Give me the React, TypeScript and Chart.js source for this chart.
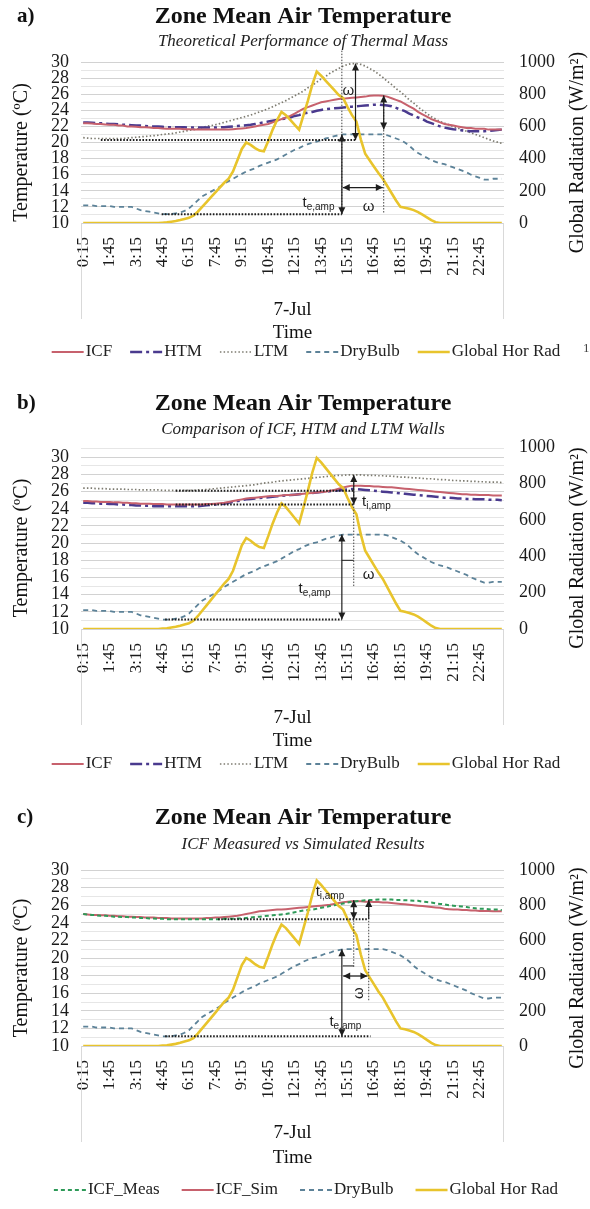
import React, { useEffect, useRef } from "react";
import { Chart, registerables } from "chart.js";

Chart.register(...registerables);

const SERIF = '"Liberation Serif", "Times New Roman", serif';
const SANS = '"Liberation Sans", Arial, sans-serif';

// ---------------- categories & ticks ----------------
const TIME_LABELS = [
  "0:15","0:30","0:45","1:00","1:15","1:30","1:45","2:00","2:15","2:30","2:45","3:00",
  "3:15","3:30","3:45","4:00","4:15","4:30","4:45","5:00","5:15","5:30","5:45","6:00",
  "6:15","6:30","6:45","7:00","7:15","7:30","7:45","8:00","8:15","8:30","8:45","9:00",
  "9:15","9:30","9:45","10:00","10:15","10:30","10:45","11:00","11:15","11:30","11:45","12:00",
  "12:15","12:30","12:45","13:00","13:15","13:30","13:45","14:00","14:15","14:30","14:45","15:00",
  "15:15","15:30","15:45","16:00","16:15","16:30","16:45","17:00","17:15","17:30","17:45","18:00",
  "18:15","18:30","18:45","19:00","19:15","19:30","19:45","20:00","20:15","20:30","20:45","21:00",
  "21:15","21:30","21:45","22:00","22:15","22:30","22:45","23:00","23:15","23:30","23:45","24:00",
];
const LABEL_EVERY = 6;
const DAY_LABEL = "7-Jul";
const X_TITLE = "Time";
const TEMP_TICK_LABELS = [10, 12, 14, 16, 18, 20, 22, 24, 26, 28, 30];
const TEMP_GRID_VALUES = [10, 11, 12, 13, 14, 15, 16, 17, 18, 19, 20, 21, 22, 23, 24, 25, 26, 27, 28, 29, 30, 31];
const RAD_TICK_LABELS = [0, 200, 400, 600, 800, 1000];

// ---------------- series ----------------
const GLOBAL_HOR_RAD = [
  0,0,0,0,0,0,0,0,0,0,0,0,0,0,0,0,0,0,
  2,4,8,12,18,25,32,45,70,100,130,160,190,220,250,275,320,390,460,500,
  485,465,450,445,510,580,640,690,670,640,610,580,670,760,860,940,915,885,
  855,825,795,775,720,670,630,520,430,390,350,310,275,230,185,140,100,95,
  88,80,68,52,35,18,5,
  0,0,0,0,0,0,0,0,0,0,0,0,0,0,0,
];
const DRY_BULB = [
  12.2,12.2,12.2,12.1,12.1,12.1,12.1,12.0,12.0,12.0,12.0,
  12.0,11.8,11.6,11.5,11.4,11.3,11.2,11.1,11.1,11.1,
  11.2,11.3,11.5,11.8,12.3,12.8,13.3,13.6,13.9,14.2,
  14.5,14.9,15.2,15.5,15.8,16.1,16.4,16.6,16.8,17.1,
  17.3,17.5,17.7,17.9,18.2,18.5,18.8,19.1,19.3,19.6,
  19.8,20.0,20.1,20.3,20.5,20.6,20.8,20.9,21.0,21.0,
  21.0,21.0,21.0,21.0,21.0,21.0,21.0,21.0,20.9,20.7,
  20.5,20.3,20.0,19.6,19.1,18.7,18.4,18.1,17.8,17.6,
  17.4,17.3,17.1,16.9,16.7,16.5,16.3,16.0,15.8,15.6,
  15.4,15.4,15.5,15.5,15.5,
];
const ICF_THEORETICAL = [
  22.4,22.4,22.35,22.3,22.3,22.25,22.2,22.2,22.1,22.1,
  22.0,22.0,21.95,21.9,21.9,21.85,21.8,21.8,21.75,21.7,
  21.7,21.7,21.7,21.65,21.65,21.6,21.6,21.6,21.6,21.6,
  21.6,21.6,21.6,21.6,21.65,21.7,21.75,21.8,21.9,22.0,
  22.1,22.2,22.3,22.5,22.7,22.9,23.1,23.3,23.6,23.9,
  24.2,24.4,24.6,24.8,25.0,25.1,25.2,25.3,25.4,25.45,
  25.5,25.55,25.6,25.65,25.7,25.8,25.85,25.85,25.8,25.7,
  25.5,25.3,25.1,24.8,24.5,24.2,23.8,23.5,23.2,22.9,
  22.7,22.5,22.3,22.2,22.1,22.0,21.9,21.8,21.8,21.7,
  21.7,21.7,21.6,21.6,21.6,21.6,
];
const HTM_THEORETICAL = [
  22.5,22.5,22.45,22.4,22.4,22.35,22.3,22.3,22.25,22.2,
  22.2,22.15,22.1,22.1,22.05,22.0,22.0,22.0,21.95,21.9,
  21.9,21.9,21.9,21.9,21.85,21.85,21.85,21.85,21.85,21.85,
  21.85,21.9,21.9,21.95,22.0,22.05,22.1,22.15,22.2,22.3,
  22.4,22.5,22.6,22.7,22.8,22.9,23.0,23.1,23.3,23.4,
  23.6,23.7,23.8,23.95,24.05,24.15,24.2,24.25,24.3,24.35,
  24.4,24.45,24.5,24.55,24.6,24.65,24.7,24.7,24.65,24.6,
  24.5,24.3,24.1,23.9,23.6,23.35,23.1,22.9,22.6,22.4,
  22.2,22.0,21.85,21.75,21.65,21.6,21.5,21.45,21.4,21.4,
  21.4,21.4,21.45,21.5,21.55,21.6,
];
const LTM_THEORETICAL = [
  20.6,20.55,20.5,20.5,20.5,20.5,20.5,20.5,20.5,20.5,
  20.55,20.6,20.65,20.7,20.75,20.8,20.85,20.9,21.0,21.05,
  21.1,21.2,21.3,21.4,21.5,21.6,21.7,21.85,22.0,22.1,
  22.2,22.35,22.5,22.65,22.8,22.95,23.1,23.25,23.4,23.6,
  23.8,24.0,24.2,24.45,24.7,24.95,25.2,25.5,25.8,26.1,
  26.4,26.8,27.1,27.5,27.9,28.2,28.6,28.9,29.2,29.5,
  29.7,29.8,29.8,29.7,29.5,29.2,28.9,28.5,28.1,27.6,
  27.2,26.7,26.3,25.8,25.3,24.9,24.4,24.0,23.6,23.2,
  22.9,22.6,22.4,22.2,22.0,21.8,21.6,21.4,21.2,21.0,
  20.8,20.6,20.4,20.2,20.05,19.9,
];
const ICF_WALLS = [
  24.9,24.9,24.85,24.85,24.8,24.8,24.8,24.75,24.75,24.7,
  24.7,24.65,24.65,24.6,24.6,24.6,24.55,24.55,24.55,24.5,
  24.5,24.5,24.5,24.5,24.5,24.5,24.5,24.5,24.55,24.55,
  24.6,24.65,24.7,24.8,24.9,25.0,25.1,25.2,25.25,25.3,
  25.35,25.4,25.45,25.5,25.5,25.55,25.6,25.6,25.65,25.7,
  25.75,25.8,25.85,25.9,25.95,26.0,26.1,26.2,26.35,26.5,
  26.6,26.7,26.7,26.7,26.65,26.65,26.6,26.6,26.55,26.5,
  26.5,26.45,26.4,26.35,26.3,26.25,26.2,26.15,26.1,26.05,
  26.0,25.95,25.9,25.85,25.8,25.75,25.7,25.7,25.65,25.65,
  25.6,25.6,25.6,25.55,25.55,25.55,
];
const HTM_WALLS = [
  24.7,24.7,24.65,24.65,24.6,24.6,24.55,24.55,24.5,24.5,
  24.45,24.45,24.4,24.4,24.35,24.35,24.3,24.3,24.3,24.3,
  24.3,24.3,24.3,24.3,24.3,24.3,24.3,24.35,24.4,24.45,
  24.5,24.55,24.6,24.7,24.8,24.9,25.0,25.1,25.15,25.2,
  25.25,25.3,25.35,25.4,25.45,25.5,25.55,25.6,25.65,25.7,
  25.75,25.8,25.85,25.9,25.95,26.0,26.05,26.1,26.15,26.2,
  26.25,26.3,26.3,26.25,26.2,26.15,26.1,26.05,26.0,25.95,
  25.9,25.85,25.8,25.75,25.7,25.65,25.6,25.55,25.5,25.45,
  25.4,25.35,25.3,25.3,25.25,25.2,25.2,25.15,25.15,25.1,
  25.1,25.1,25.05,25.05,25.05,25.0,
];
const LTM_WALLS = [
  26.4,26.4,26.4,26.35,26.35,26.35,26.3,26.3,26.3,26.3,
  26.25,26.25,26.25,26.2,26.2,26.2,26.2,26.2,26.15,26.15,
  26.15,26.15,26.15,26.15,26.15,26.15,26.2,26.2,26.25,26.3,
  26.35,26.4,26.45,26.5,26.55,26.6,26.65,26.7,26.75,26.8,
  26.9,27.0,27.05,27.1,27.2,27.25,27.3,27.35,27.4,27.45,
  27.5,27.55,27.6,27.65,27.7,27.75,27.8,27.85,27.9,27.9,
  27.95,27.95,27.95,27.95,27.9,27.9,27.9,27.85,27.85,27.8,
  27.8,27.75,27.7,27.7,27.65,27.6,27.6,27.55,27.5,27.5,
  27.45,27.4,27.4,27.35,27.3,27.3,27.25,27.25,27.2,27.2,
  27.15,27.15,27.1,27.1,27.1,27.05,
];
const ICF_MEAS = [
  25.0,24.95,24.9,24.85,24.8,24.8,24.75,24.7,24.7,24.65,
  24.65,24.6,24.6,24.55,24.55,24.5,24.5,24.45,24.45,24.4,
  24.4,24.4,24.4,24.4,24.4,24.4,24.4,24.4,24.4,24.4,
  24.4,24.4,24.45,24.45,24.45,24.5,24.5,24.55,24.6,24.65,
  24.7,24.75,24.8,24.85,24.9,24.95,25.0,25.1,25.2,25.3,
  25.4,25.45,25.5,25.6,25.7,25.8,25.9,26.0,26.1,26.2,
  26.3,26.4,26.45,26.5,26.55,26.6,26.6,26.65,26.65,26.65,
  26.65,26.6,26.6,26.55,26.55,26.5,26.5,26.4,26.35,26.3,
  26.2,26.15,26.1,26.0,25.95,25.9,25.85,25.8,25.7,25.65,
  25.6,25.6,25.55,25.5,25.5,25.45,
];
const ICF_SIM = [
  25.0,24.95,24.9,24.9,24.85,24.85,24.8,24.8,24.75,24.75,
  24.7,24.7,24.65,24.65,24.6,24.6,24.6,24.55,24.55,24.55,
  24.5,24.5,24.5,24.5,24.5,24.5,24.5,24.5,24.55,24.55,
  24.6,24.6,24.65,24.7,24.75,24.8,24.9,25.0,25.1,25.2,
  25.3,25.35,25.4,25.45,25.5,25.5,25.55,25.6,25.65,25.7,
  25.75,25.8,25.85,25.9,25.95,26.0,26.05,26.15,26.25,26.35,
  26.4,26.45,26.45,26.45,26.4,26.4,26.35,26.35,26.3,26.3,
  26.25,26.2,26.15,26.1,26.05,26.0,25.95,25.9,25.85,25.8,
  25.75,25.7,25.6,25.55,25.5,25.5,25.45,25.45,25.4,25.4,
  25.35,25.35,25.35,25.3,25.3,25.3,
];

// ---------------- annotation marks (data units: x = category index, y = °C) ----------------
const MARKS_A = [
  { kind: "hdot", y: 20.3, x1: 4, x2: 61.8 },
  { kind: "hdot", y: 11.1, x1: 17.8, x2: 58.7 },
  { kind: "vdot", x: 58.7, y1: 11.1, y2: 31.5 },
  { kind: "vdot", x: 68.2, y1: 11.3, y2: 25.85 },
  { kind: "arrow", x1: 61.8, y1: 29.8, x2: 61.8, y2: 20.3, both: true },
  { kind: "arrow", x1: 68.2, y1: 25.85, x2: 68.2, y2: 21.6, both: true },
  { kind: "arrow", x1: 58.7, y1: 21.0, x2: 58.7, y2: 11.1, both: true },
  { kind: "arrow", x1: 58.9, y1: 14.4, x2: 68.0, y2: 14.4, both: true },
  { kind: "text", x: 60.2, y: 26.4, text: "ω" },
  { kind: "text", x: 53.4, y: 12.6, text: "t", sub: "e,amp" },
  { kind: "text", x: 64.8, y: 12.0, text: "ω" },
];
const MARKS_B = [
  { kind: "hdot", y: 26.1, x1: 21, x2: 61.4 },
  { kind: "hdot", y: 24.5, x1: 21, x2: 61.4 },
  { kind: "hdot", y: 11.1, x1: 18.6, x2: 58.7 },
  { kind: "vdot", x: 61.4, y1: 15.0, y2: 27.95 },
  { kind: "arrow", x1: 61.4, y1: 26.7, x2: 61.4, y2: 27.95, both: false },
  { kind: "arrow", x1: 61.4, y1: 26.7, x2: 61.4, y2: 24.5, both: false },
  { kind: "arrow", x1: 58.7, y1: 21.0, x2: 58.7, y2: 11.1, both: true },
  { kind: "line", x1: 58.7, y1: 18.0, x2: 61.4, y2: 18.0 },
  { kind: "text", x: 63.3, y: 24.9, text: "t", sub: "i,amp", left: true },
  { kind: "text", x: 52.5, y: 14.75, text: "t", sub: "e,amp" },
  { kind: "text", x: 64.8, y: 16.3, text: "ω" },
];
const MARKS_C = [
  { kind: "hdot", y: 24.4, x1: 30.6, x2: 64.7 },
  { kind: "hdot", y: 11.1, x1: 18.6, x2: 65.2 },
  { kind: "vdot", x: 61.4, y1: 19.0, y2: 26.55 },
  { kind: "vdot", x: 64.8, y1: 15.2, y2: 26.6 },
  { kind: "arrow", x1: 61.4, y1: 26.55, x2: 61.4, y2: 24.4, both: true },
  { kind: "arrow", x1: 64.8, y1: 24.4, x2: 64.8, y2: 26.6, both: false },
  { kind: "arrow", x1: 58.7, y1: 21.0, x2: 58.7, y2: 11.1, both: true },
  { kind: "arrow", x1: 59.0, y1: 17.95, x2: 64.5, y2: 17.95, both: true },
  { kind: "line", x1: 58.9, y1: 19.1, x2: 61.4, y2: 19.1 },
  { kind: "text", x: 56, y: 27.6, text: "t", sub: "i,amp" },
  { kind: "text", x: 59.5, y: 12.8, text: "t", sub: "e,amp" },
  { kind: "text", x: 62.5, y: 16.0, text: "ω", rotate: true },
];

// ---------------- styles ----------------
const STYLE: any = {
  ICF: { color: "#c7616d", width: 2, dash: [] },
  HTM: { color: "#4a3a8e", width: 2.5, dash: [12, 4, 3, 4] },
  LTM: { color: "#7d7b70", width: 1.7, dash: [1.5, 2.2] },
  DRY: { color: "#5c8298", width: 1.8, dash: [5, 4] },
  GHR: { color: "#e8c42c", width: 2.6, dash: [] },
  MEAS: { color: "#2e9a58", width: 2, dash: [4, 3] },
};

const W = 590;
const PLOT_LEFT = 81;
const PLOT_RIGHT = 504;
const X_AXIS_H = 70;

const PANELS: any[] = [
  {
    letter: "a)", title: "Zone Mean Air Temperature", subtitle: "Theoretical Performance of Thermal Mass",
    height: 380, titleY: 17, subY: 42, plotTop: 62, plotBottom: 223, dayY: 310, timeY: 333, legendY: 352,
    tempMax: 30, marks: MARKS_A, note: "1", itemGap: 18,
    series: [
      { label: "ICF", data: ICF_THEORETICAL, style: "ICF", axis: "y", order: 2 },
      { label: "HTM", data: HTM_THEORETICAL, style: "HTM", axis: "y", order: 3 },
      { label: "LTM", data: LTM_THEORETICAL, style: "LTM", axis: "y", order: 4 },
      { label: "DryBulb", data: DRY_BULB, style: "DRY", axis: "y", order: 5 },
      { label: "Global Hor Rad", data: GLOBAL_HOR_RAD, style: "GHR", axis: "y1", order: 1 },
    ],
  },
  {
    letter: "b)", title: "Zone Mean Air Temperature", subtitle: "Comparison of ICF, HTM and LTM Walls",
    height: 415, titleY: 24, subY: 50, plotTop: 67, plotBottom: 249, dayY: 338, timeY: 361, legendY: 384,
    tempMax: 31.2, marks: MARKS_B, itemGap: 18,
    series: [
      { label: "ICF", data: ICF_WALLS, style: "ICF", axis: "y", order: 2 },
      { label: "HTM", data: HTM_WALLS, style: "HTM", axis: "y", order: 3 },
      { label: "LTM", data: LTM_WALLS, style: "LTM", axis: "y", order: 4 },
      { label: "DryBulb", data: DRY_BULB, style: "DRY", axis: "y", order: 5 },
      { label: "Global Hor Rad", data: GLOBAL_HOR_RAD, style: "GHR", axis: "y1", order: 1 },
    ],
  },
  {
    letter: "c)", title: "Zone Mean Air Temperature", subtitle: "ICF Measured vs Simulated Results",
    height: 414, titleY: 23, subY: 50, plotTop: 75, plotBottom: 251, dayY: 338, timeY: 363, legendY: 395,
    tempMax: 30, marks: MARKS_C, itemGap: 22,
    series: [
      { label: "ICF_Meas", data: ICF_MEAS, style: "MEAS", axis: "y", order: 2 },
      { label: "ICF_Sim", data: ICF_SIM, style: "ICF", axis: "y", order: 3 },
      { label: "DryBulb", data: DRY_BULB, style: "DRY", axis: "y", order: 4 },
      { label: "Global Hor Rad", data: GLOBAL_HOR_RAD, style: "GHR", axis: "y1", order: 1 },
    ],
  },
];

// ---------------- drawing helpers ----------------
function arrowHead(ctx: any, x: number, y: number, ang: number) {
  const L = 7, H = 3.5;
  ctx.beginPath();
  ctx.moveTo(x, y);
  ctx.lineTo(x - L * Math.cos(ang) + H * Math.sin(ang), y - L * Math.sin(ang) - H * Math.cos(ang));
  ctx.lineTo(x - L * Math.cos(ang) - H * Math.sin(ang), y - L * Math.sin(ang) + H * Math.cos(ang));
  ctx.closePath();
  ctx.fill();
}

function subText(ctx: any, x: number, y: number, main: string, sub: string | undefined, left: boolean) {
  ctx.font = `15px ${SANS}`;
  const w1 = ctx.measureText(main).width;
  ctx.font = `10px ${SANS}`;
  const w2 = sub ? ctx.measureText(sub).width : 0;
  const start = left ? x : x - (w1 + w2) / 2;
  ctx.textAlign = "left";
  ctx.textBaseline = "alphabetic";
  ctx.font = `15px ${SANS}`;
  ctx.fillText(main, start, y + 5);
  if (sub) {
    ctx.font = `10px ${SANS}`;
    ctx.fillText(sub, start + w1, y + 8);
  }
}

function drawMarks(chart: any, marks: any[]) {
  const ctx = chart.ctx;
  const xs = chart.scales.x;
  const ys = chart.scales.y;
  const px = (v: number) => xs.getPixelForValue(v);
  const py = (v: number) => ys.getPixelForValue(v);
  ctx.save();
  for (const m of marks) {
    ctx.setLineDash([]);
    ctx.strokeStyle = "#1e1e1e";
    ctx.fillStyle = "#1e1e1e";
    if (m.kind === "hdot") {
      ctx.lineWidth = 2;
      ctx.setLineDash([1.6, 1.6]);
      ctx.beginPath();
      ctx.moveTo(px(m.x1), py(m.y));
      ctx.lineTo(px(m.x2), py(m.y));
      ctx.stroke();
    } else if (m.kind === "vdot") {
      ctx.lineWidth = 1;
      ctx.strokeStyle = "#444";
      ctx.setLineDash([1.5, 1.5]);
      ctx.beginPath();
      ctx.moveTo(px(m.x), py(m.y1));
      ctx.lineTo(px(m.x), py(m.y2));
      ctx.stroke();
    } else if (m.kind === "line") {
      ctx.lineWidth = 1;
      ctx.beginPath();
      ctx.moveTo(px(m.x1), py(m.y1));
      ctx.lineTo(px(m.x2), py(m.y2));
      ctx.stroke();
    } else if (m.kind === "arrow") {
      const x1 = px(m.x1), y1 = py(m.y1), x2 = px(m.x2), y2 = py(m.y2);
      const ang = Math.atan2(y2 - y1, x2 - x1);
      ctx.lineWidth = 1.2;
      ctx.beginPath();
      ctx.moveTo(x1, y1);
      ctx.lineTo(x2, y2);
      ctx.stroke();
      arrowHead(ctx, x2, y2, ang);
      if (m.both) arrowHead(ctx, x1, y1, ang + Math.PI);
    } else if (m.kind === "text") {
      const x = px(m.x), y = py(m.y);
      if (m.rotate) {
        ctx.save();
        ctx.translate(x, y);
        ctx.rotate(-Math.PI / 2);
        ctx.font = `15px ${SANS}`;
        ctx.textAlign = "center";
        ctx.textBaseline = "middle";
        ctx.fillText(m.text, 0, 0);
        ctx.restore();
      } else if (m.sub) {
        subText(ctx, x, y, m.text, m.sub, !!m.left);
      } else {
        ctx.font = `15px ${SANS}`;
        ctx.textAlign = "center";
        ctx.textBaseline = "middle";
        ctx.fillText(m.text, x, y);
      }
    }
  }
  ctx.restore();
}

function drawFrame(chart: any, p: any) {
  const ctx = chart.ctx;
  const a = chart.chartArea;
  ctx.save();
  ctx.fillStyle = "#111";
  ctx.font = `bold 21px ${SERIF}`;
  ctx.textAlign = "left";
  ctx.textBaseline = "middle";
  ctx.fillText(p.letter, 17, p.titleY);
  ctx.font = `bold 24px ${SERIF}`;
  ctx.textAlign = "center";
  ctx.fillText(p.title, 303, p.titleY);
  ctx.font = `italic 17px ${SERIF}`;
  ctx.fillStyle = "#222";
  ctx.fillText(p.subtitle, 303, p.subY);

  ctx.strokeStyle = "#d9d9d9";
  ctx.lineWidth = 1;
  ctx.beginPath();
  ctx.moveTo(a.left + 0.5, a.bottom);
  ctx.lineTo(a.left + 0.5, a.bottom + 96);
  ctx.moveTo(a.right - 0.5, a.bottom);
  ctx.lineTo(a.right - 0.5, a.bottom + 96);
  ctx.stroke();

  const midY = (a.top + a.bottom) / 2;
  ctx.fillStyle = "#111";
  ctx.font = `20px ${SERIF}`;
  ctx.save();
  ctx.translate(22, midY + 10);
  ctx.rotate(-Math.PI / 2);
  ctx.textAlign = "center";
  ctx.textBaseline = "middle";
  ctx.fillText("Temperature (ºC)", 0, 0);
  ctx.restore();
  ctx.save();
  ctx.translate(578, midY + 10);
  ctx.rotate(-Math.PI / 2);
  ctx.textAlign = "center";
  ctx.textBaseline = "middle";
  ctx.fillText("Global Radiation (W/m²)", 0, 0);
  ctx.restore();

  const cx = (a.left + a.right) / 2;
  ctx.textAlign = "center";
  ctx.textBaseline = "middle";
  ctx.font = `19px ${SERIF}`;
  ctx.fillText(DAY_LABEL, cx, p.dayY);
  ctx.fillText(X_TITLE, cx, p.timeY);

  const sample = 32, gapText = 2;
  ctx.font = `17px ${SERIF}`;
  const widths = p.series.map((s: any) => sample + gapText + ctx.measureText(s.label).width);
  const total = widths.reduce((t: number, w: number) => t + w, 0) + p.itemGap * (p.series.length - 1);
  let x = 306 - total / 2;
  p.series.forEach((s: any, i: number) => {
    const st = STYLE[s.style];
    ctx.strokeStyle = st.color;
    ctx.lineWidth = st.width;
    ctx.setLineDash(st.dash);
    ctx.beginPath();
    ctx.moveTo(x, p.legendY);
    ctx.lineTo(x + sample, p.legendY);
    ctx.stroke();
    ctx.setLineDash([]);
    ctx.fillStyle = "#222";
    ctx.textAlign = "left";
    ctx.fillText(s.label, x + sample + gapText, p.legendY);
    x += widths[i] + p.itemGap;
  });
  if (p.note) {
    ctx.font = `13px ${SERIF}`;
    ctx.fillStyle = "#444";
    ctx.fillText(p.note, 583, p.legendY - 3);
  }
  ctx.restore();
}

function Panel({ p }: { p: any }) {
  const ref = useRef<HTMLCanvasElement | null>(null);
  useEffect(() => {
    const canvas = ref.current;
    if (!canvas) return;
    const deco = {
      id: "deco",
      afterDatasetsDraw(chart: any) {
        drawMarks(chart, p.marks);
      },
      afterDraw(chart: any) {
        drawFrame(chart, p);
      },
    };
    const chart = new Chart(canvas, {
      type: "line",
      data: {
        labels: TIME_LABELS,
        datasets: p.series.map((s: any) => ({
          label: s.label,
          data: s.data,
          yAxisID: s.axis,
          borderColor: STYLE[s.style].color,
          borderWidth: STYLE[s.style].width,
          borderDash: STYLE[s.style].dash,
          pointRadius: 0,
          fill: false,
          tension: 0,
          order: s.order,
        })),
      },
      options: {
        responsive: false,
        animation: false,
        events: [],
        layout: {
          padding: { top: p.plotTop, bottom: p.height - p.plotBottom - X_AXIS_H, left: 0, right: 0 },
        },
        plugins: {
          legend: { display: false },
          tooltip: { enabled: false },
          title: { display: false },
        },
        scales: {
          x: {
            type: "category",
            offset: true,
            grid: { display: false },
            border: { display: false },
            ticks: {
              autoSkip: false,
              maxRotation: 90,
              minRotation: 90,
              padding: 6,
              color: "#1a1a1a",
              font: { family: SERIF, size: 17 },
              callback: (_v: any, i: number) => (i % LABEL_EVERY === 0 ? TIME_LABELS[i] : ""),
            },
            afterFit: (s: any) => {
              s.height = X_AXIS_H;
            },
          },
          y: {
            position: "left",
            min: 10,
            max: p.tempMax,
            border: { display: false },
            grid: {
              drawTicks: false,
              lineWidth: 1,
              color: (c: any) => (c.tick && c.tick.value % 2 === 0 ? "#d2d2d2" : "#e6e6e6"),
            },
            ticks: {
              autoSkip: false,
              padding: 12,
              color: "#1a1a1a",
              font: { family: SERIF, size: 18 },
              callback: (v: any) => (TEMP_TICK_LABELS.includes(v) ? String(v) : ""),
            },
            afterBuildTicks: (s: any) => {
              s.ticks = TEMP_GRID_VALUES.filter((v) => v <= p.tempMax).map((v) => ({ value: v }));
            },
            afterFit: (s: any) => {
              s.width = PLOT_LEFT;
            },
          },
          y1: {
            position: "right",
            min: 0,
            max: 1000,
            border: { display: false },
            grid: { display: false, drawTicks: false },
            ticks: {
              autoSkip: false,
              padding: 15,
              color: "#1a1a1a",
              font: { family: SERIF, size: 18 },
              callback: (v: any) => String(v),
            },
            afterBuildTicks: (s: any) => {
              s.ticks = RAD_TICK_LABELS.map((v) => ({ value: v }));
            },
            afterFit: (s: any) => {
              s.width = W - PLOT_RIGHT;
            },
          },
        },
      } as any,
      plugins: [deco],
    } as any);
    return () => chart.destroy();
  }, [p]);
  return <canvas ref={ref} width={W} height={p.height} style={{ display: "block", width: W, height: p.height }} />;
}

export default function App() {
  return (
    <div style={{ position: "absolute", left: 0, top: 0, width: W, height: 1209, background: "#fff" }}>
      {PANELS.map((p, i) => (
        <Panel key={i} p={p} />
      ))}
    </div>
  );
}
